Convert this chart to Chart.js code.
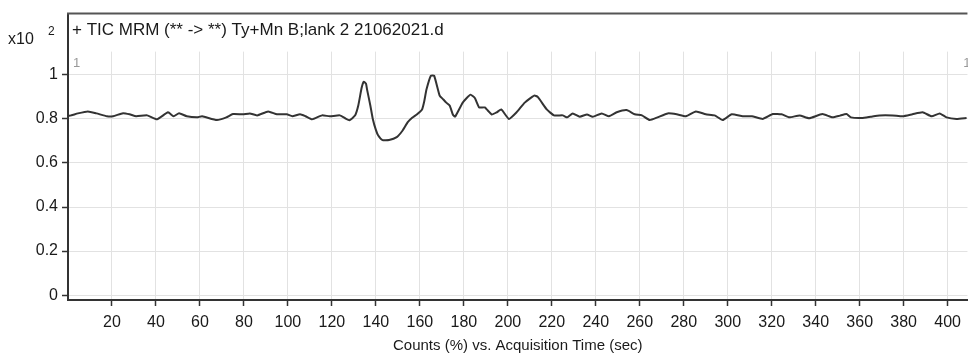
<!DOCTYPE html>
<html>
<head>
<meta charset="utf-8">
<script src="https://cdn.jsdelivr.net/npm/chart.js@4.4.0/dist/chart.umd.min.js"></script>
<style>
html, body { margin: 0; padding: 0; background: #fff; }
</style>
</head>
<body>
<canvas id="chart" width="968" height="358"></canvas>
<script>
// acquisition time (sec) and counts (x10^2 %)
const times = [
  0, 1, 4.5, 9, 13, 17.7, 20.5, 25, 28, 31, 36, 40.5, 45.5, 48, 50.5, 54, 58.6, 61, 67.7, 72,
  75, 79.5, 82.7, 86, 91, 95, 99.5, 102, 105.5, 108, 111, 115.5, 119, 123.6, 126, 128, 130.5, 132, 133.5, 134.5,
  135.5, 136, 137.5, 138.6, 140, 141, 143, 146, 149.5, 152, 154.5, 156.5, 158.6, 161, 162, 163, 165, 166.5, 169, 170.5,
  172, 173.6, 175, 176, 179.5, 183, 185, 187, 189.5, 192.7, 195, 197, 200.5, 204, 207.7, 212, 213.6, 217.7, 221, 225,
  227, 229.5, 232.7, 236, 238.6, 242.7, 246, 249.5, 254, 257.7, 261, 264.5, 268, 272.7, 276.8, 281, 285.5, 290, 294, 297.7,
  301.8, 306.8, 311, 316, 320.5, 324.5, 328, 332.7, 337, 343, 347.7, 351, 354, 356, 361, 365, 369, 375, 379.5, 384,
  388.6, 392.7, 396.4, 399.5, 404, 408.6
];
const counts = [
  0.815, 0.815, 0.825, 0.834, 0.825, 0.812, 0.812, 0.826, 0.821, 0.812, 0.816, 0.798, 0.830, 0.812, 0.826, 0.812, 0.807, 0.812, 0.795, 0.807,
  0.822, 0.821, 0.825, 0.816, 0.834, 0.821, 0.821, 0.812, 0.821, 0.812, 0.798, 0.816, 0.812, 0.816, 0.803, 0.794, 0.815, 0.861, 0.940, 0.969,
  0.960, 0.933, 0.860, 0.800, 0.750, 0.726, 0.704, 0.704, 0.717, 0.745, 0.785, 0.805, 0.820, 0.843, 0.880, 0.933, 0.996, 0.996, 0.906, 0.890,
  0.874, 0.860, 0.820, 0.810, 0.874, 0.910, 0.895, 0.852, 0.852, 0.820, 0.830, 0.843, 0.800, 0.830, 0.874, 0.906, 0.900, 0.843, 0.816, 0.816,
  0.807, 0.825, 0.810, 0.820, 0.810, 0.825, 0.812, 0.830, 0.840, 0.821, 0.816, 0.795, 0.807, 0.825, 0.821, 0.812, 0.834, 0.821, 0.816, 0.795,
  0.821, 0.812, 0.812, 0.800, 0.822, 0.821, 0.807, 0.816, 0.803, 0.822, 0.807, 0.815, 0.822, 0.807, 0.804, 0.810, 0.816, 0.816, 0.812, 0.821,
  0.830, 0.812, 0.825, 0.807, 0.800, 0.804
];
const xTicks = [20, 40, 60, 80, 100, 120, 140, 160, 180, 200, 220, 240, 260, 280, 300, 320, 340, 360, 380, 400];
const yTicks = [0, 0.2, 0.4, 0.6, 0.8, 1];
const traceTitle = '+ TIC MRM (** -> **) Ty+Mn B;lank 2 21062021.d';
const xTitle = 'Counts (%) vs. Acquisition Time (sec)';

const FONT = "'Liberation Sans', Arial, sans-serif";
const INK = '#333333';
const TEXT = '#1a1a1a';

// white title band, frame line and the annotation texts
const frame = {
  id: 'frame',
  beforeDatasetsDraw(c) {
    const a = c.chartArea, ctx = c.ctx;
    ctx.save();
    ctx.fillStyle = '#fff';
    ctx.fillRect(a.left + 2, a.top, a.right - a.left, 38);
    ctx.restore();
  },
  afterDraw(c) {
    const a = c.chartArea, ctx = c.ctx;
    ctx.save();
    ctx.strokeStyle = '#555';
    ctx.lineWidth = 2;
    ctx.beginPath();
    ctx.moveTo(a.left - 1, a.top);
    ctx.lineTo(a.right, a.top);
    ctx.stroke();

    ctx.fillStyle = TEXT;
    ctx.textBaseline = 'middle';
    ctx.textAlign = 'left';
    ctx.font = '17px ' + FONT;
    ctx.fillText(traceTitle, a.left + 4, 30);
    ctx.font = '16px ' + FONT;
    ctx.fillText('x10', 8, 40);
    ctx.font = '12px ' + FONT;
    ctx.fillText('2', 48, 32);

    ctx.fillStyle = '#999';
    ctx.font = '13px ' + FONT;
    ctx.fillText('1', a.left + 5, 63);
    ctx.textAlign = 'right';
    ctx.fillText('1', a.right + 3, 63);
    ctx.restore();
  }
};

new Chart(document.getElementById('chart'), {
  type: 'line',
  data: {
    datasets: [{
      data: times.map((t, i) => ({ x: t, y: counts[i] })),
      borderColor: INK,
      borderWidth: 2,
      pointRadius: 0,
      tension: 0.15,
      fill: false
    }]
  },
  options: {
    responsive: false,
    animation: false,
    layout: { padding: { top: 10, left: 0, right: 0, bottom: 0 } },
    plugins: { legend: { display: false }, tooltip: { enabled: false } },
    scales: {
      x: {
        type: 'linear',
        min: 0,
        max: 409,
        afterBuildTicks: s => { s.ticks = xTicks.map(v => ({ value: v })); },
        afterFit: s => { s.height = 58; },
        grid: { color: '#e2e2e2', lineWidth: 1, tickLength: 6, tickColor: INK, tickWidth: 1.5 },
        border: { color: INK, width: 2 },
        ticks: { color: TEXT, font: { family: FONT, size: 16 }, padding: 7, maxRotation: 0 },
        title: { display: true, text: xTitle, color: TEXT, font: { family: FONT, size: 15 }, padding: { top: 0, bottom: 3 } }
      },
      y: {
        min: -0.022,
        max: 1.278,
        afterBuildTicks: s => { s.ticks = yTicks.map(v => ({ value: v })); },
        afterFit: s => { s.width = 68; },
        grid: { color: '#e2e2e2', lineWidth: 1, tickLength: 6, tickColor: INK, tickWidth: 1.5 },
        border: { color: INK, width: 2 },
        ticks: { color: TEXT, font: { family: FONT, size: 16 }, padding: 4, callback: v => String(Math.round(v * 10) / 10) }
      }
    }
  },
  plugins: [frame]
});
</script>
</body>
</html>
